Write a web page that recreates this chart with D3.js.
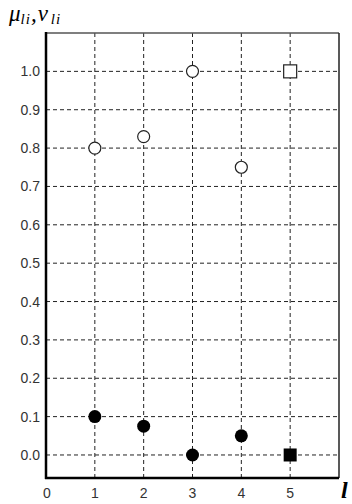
<!DOCTYPE html>
<html>
<head>
<meta charset="utf-8">
<script src="https://cdn.jsdelivr.net/npm/d3@7"></script>
<style>
  body { margin: 0; background: #fff; }
</style>
</head>
<body>
<div class="graph"></div>
<script>
// data
const idx = [1, 2, 3, 4]
const mu = [0.8, 0.83, 1.0, 0.75]
const nu = [0.1, 0.075, 0.0, 0.05]
const lastIdx = 5
const lastMu = 1.0
const lastNu = 0.0
const xTicks = [0, 1, 2, 3, 4, 5]
const yTicks = [0, 0.1, 0.2, 0.3, 0.4, 0.5, 0.6, 0.7, 0.8, 0.9, 1.0]

const w = 352
const h = 504

const svg = d3.select(".graph")
  .append("svg")
  .attr("width", w)
  .attr("height", h)
  .style("background", "#fff")

const x = d3.scaleLinear().domain([0, 6]).range([46, 339])
const y = d3.scaleLinear().domain([-0.06, 1.1]).range([478, 33])

// grid
svg.selectAll(".vgrid")
  .data(xTicks.slice(1))
  .enter()
  .append("line")
  .attr("x1", d => x(d)).attr("x2", d => x(d))
  .attr("y1", y(1.1)).attr("y2", y(-0.06))
  .attr("stroke", "#222")
  .attr("stroke-width", 1)
  .attr("stroke-dasharray", "4,3")

svg.selectAll(".hgrid")
  .data(yTicks)
  .enter()
  .append("line")
  .attr("x1", x(0)).attr("x2", x(6))
  .attr("y1", d => y(d)).attr("y2", d => y(d))
  .attr("stroke", "#222")
  .attr("stroke-width", 1)
  .attr("stroke-dasharray", "4,3")

// frame: thin top/right, thick left/bottom
svg.append("line").attr("x1", x(0)).attr("x2", x(6)).attr("y1", y(1.1)).attr("y2", y(1.1))
  .attr("stroke", "#555").attr("stroke-width", 1.5)
svg.append("line").attr("x1", x(6)).attr("x2", x(6)).attr("y1", y(1.1)).attr("y2", y(-0.06))
  .attr("stroke", "#222").attr("stroke-width", 1.5)
svg.append("line").attr("x1", x(0)).attr("x2", x(0)).attr("y1", y(1.1) - 1).attr("y2", y(-0.06) + 1)
  .attr("stroke", "#000").attr("stroke-width", 2.5)
svg.append("line").attr("x1", x(0) - 1).attr("x2", x(6)).attr("y1", y(-0.06)).attr("y2", y(-0.06))
  .attr("stroke", "#000").attr("stroke-width", 2.5)

// tick labels
svg.selectAll(".ylab")
  .data(yTicks)
  .enter()
  .append("text")
  .attr("x", 40)
  .attr("y", d => y(d) + 5)
  .attr("text-anchor", "end")
  .attr("font-family", "Liberation Sans, Arial, sans-serif")
  .attr("font-size", 14)
  .attr("fill", "#333")
  .text(d => d.toFixed(1))

svg.selectAll(".xlab")
  .data(xTicks)
  .enter()
  .append("text")
  .attr("x", d => x(d) + (d === 0 ? 1 : 0))
  .attr("y", 498)
  .attr("text-anchor", "middle")
  .attr("font-family", "Liberation Sans, Arial, sans-serif")
  .attr("font-size", 14)
  .attr("fill", "#333")
  .text(d => d)

// axis titles
const yt = svg.append("text")
  .attr("x", 9).attr("y", 21)
  .attr("font-family", "Liberation Serif, Times New Roman, serif")
  .attr("font-style", "italic")
  .attr("font-size", 23)
  .attr("fill", "#000")
yt.append("tspan").text("μ")
yt.append("tspan").attr("font-size", 15).attr("dy", 3).attr("letter-spacing", 1).text("li")
yt.append("tspan").attr("dy", -3).attr("letter-spacing", 1).text(",ν")
yt.append("tspan").attr("font-size", 15).attr("dy", 3).attr("dx", 2).attr("letter-spacing", 1).text("li")

svg.append("text")
  .attr("x", 341).attr("y", 498)
  .attr("font-family", "Liberation Serif, Times New Roman, serif")
  .attr("font-style", "italic")
  .attr("font-weight", "bold")
  .attr("font-size", 24)
  .attr("fill", "#000")
  .text("l")

// points
svg.selectAll(".mu")
  .data(idx)
  .enter()
  .append("circle")
  .attr("cx", d => x(d))
  .attr("cy", (d, i) => y(mu[i]))
  .attr("r", 6)
  .attr("fill", "#fff")
  .attr("stroke", "#222")
  .attr("stroke-width", 1.2)

svg.selectAll(".nu")
  .data(idx)
  .enter()
  .append("circle")
  .attr("cx", d => x(d))
  .attr("cy", (d, i) => y(nu[i]))
  .attr("r", 6.5)
  .attr("fill", "#000")

svg.append("rect")
  .attr("x", x(lastIdx) - 6.5).attr("y", y(lastMu) - 6.5)
  .attr("width", 13).attr("height", 13)
  .attr("fill", "#fff").attr("stroke", "#222").attr("stroke-width", 1.2)

svg.append("rect")
  .attr("x", x(lastIdx) - 6.5).attr("y", y(lastNu) - 6.5)
  .attr("width", 13).attr("height", 13)
  .attr("fill", "#000")
</script>
</body>
</html>
